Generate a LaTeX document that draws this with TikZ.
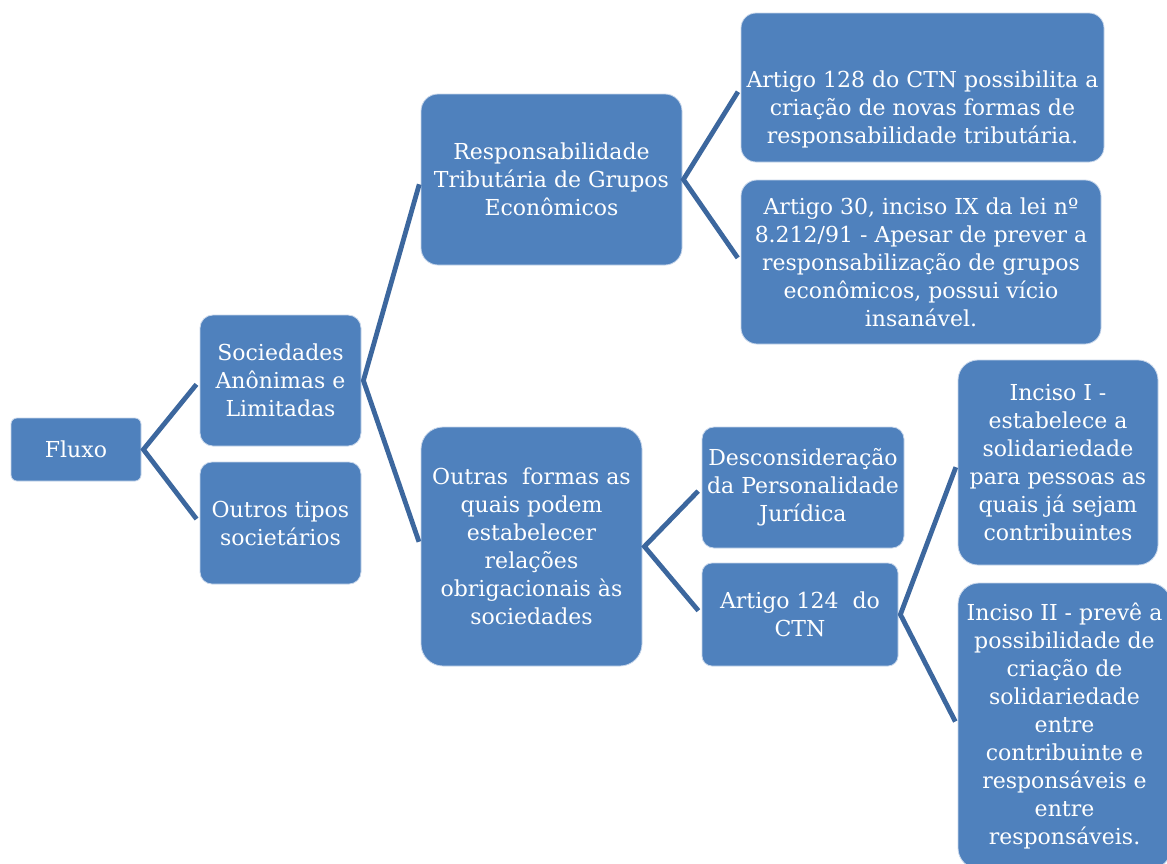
\documentclass[tikz,border=0pt]{standalone}
\usepackage{fontspec}
\setmainfont{DejaVu Serif}
\definecolor{boxblue}{RGB}{79,129,189}
\definecolor{lineblue}{RGB}{60,103,158}
\definecolor{boxedge}{RGB}{200,215,235}
\tikzset{
  box/.style={draw=boxedge, line width=0.8pt, fill=boxblue, text=white, align=center,
    inner sep=0pt, font=\fontsize{22}{28}\selectfont},
  txt/.style={text=white, align=center, inner sep=0pt, font=\fontsize{22}{28}\selectfont},
  conn/.style={draw=lineblue, line width=4.8pt, shorten >=5pt, shorten <=5pt, line join=miter},
}
\begin{document}
\begin{tikzpicture}[x=1pt,y=-1pt]
\useasboundingbox (0,0) rectangle (1167,863);
\clip (0,0) rectangle (1167,863);
\fill[white] (0,0) rectangle (1167,863);
% boxes
\node[box, minimum width=130, minimum height=63, rounded corners=6] (fluxo) at (76,449.5) {Fluxo};
\node[box, minimum width=161, minimum height=131, rounded corners=13] (soc) at (280.5,380.5) {Sociedades\\Anônimas e\\Limitadas};
\node[box, minimum width=161, minimum height=122, rounded corners=12] (outros) at (280.5,523) {Outros tipos\\societários};
\node[box, minimum width=261, minimum height=171, rounded corners=17] (resp) at (551.5,179.5) {Responsabilidade\\Tributária de Grupos\\Econômicos};
\node[box, minimum width=221, minimum height=239, rounded corners=22] (formas) at (531.5,546.5) {Outras~ formas as\\quais podem\\estabelecer\\relações\\obrigacionais às\\sociedades};
\node[box, minimum width=363, minimum height=149, rounded corners=15] (a128) at (922.5,87.5) {};
\node[txt] (a128t) at ([yshift=-22pt]a128.center) {Artigo 128 do CTN possibilita a\\criação de novas formas de\\responsabilidade tributária.};
\node[box, minimum width=360, minimum height=164, rounded corners=16] (a30) at (921,262) {Artigo 30, inciso IX da lei nº\\8.212/91 - Apesar de prever a\\responsabilização de grupos\\econômicos, possui vício\\insanável.};
\node[box, minimum width=202, minimum height=121, rounded corners=12] (desc) at (803,487.5) {Desconsideração\\da Personalidade\\Jurídica};
\node[box, minimum width=196, minimum height=103, rounded corners=10] (a124) at (800,614.5) {Artigo 124~ do\\CTN};
\node[box, minimum width=200, minimum height=205, rounded corners=20] (inc1) at (1058,462.5) {Inciso I -\\estabelece a\\solidariedade\\para pessoas as\\quais já sejam\\contribuintes};
\node[box, minimum width=213, minimum height=286, rounded corners=21] (inc2) at (1064.5,726) {Inciso II - prevê a\\possibilidade de\\criação de\\solidariedade\\entre\\contribuinte e\\responsáveis e\\entre\\responsáveis.};
% connectors
\draw[conn] (soc.west) -- ([xshift=2pt]fluxo.east) -- (outros.west);
\draw[conn] (resp.west) -- ([xshift=2pt]soc.east) -- (formas.west);
\draw[conn] (a128.west) -- ([xshift=1pt]resp.east) -- (a30.west);
\draw[conn] (desc.west) -- ([xshift=2pt]formas.east) -- (a124.west);
\draw[conn] (inc1.west) -- ([xshift=2pt]a124.east) -- (inc2.west);
\end{tikzpicture}
\end{document}
